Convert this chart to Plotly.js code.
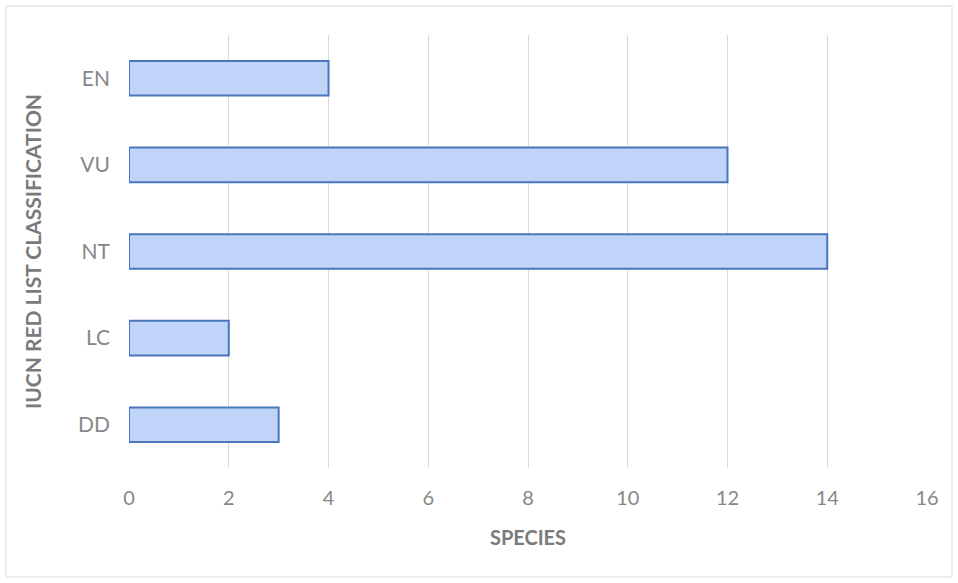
<!DOCTYPE html>
<html>
<head>
<meta charset="utf-8">
<script src="https://cdn.plot.ly/plotly-3.0.1.min.js"></script>
<style>html,body{margin:0;padding:0;background:#fff;}#chart{width:958px;height:583px;}</style>
</head>
<body>
<div id="chart"></div>
<script>
const categories = ["DD", "LC", "NT", "VU", "EN"];
const species = [3, 2, 14, 12, 4];
const xTicks = [0, 2, 4, 6, 8, 10, 12, 14, 16];

const trace = {
  type: "bar",
  orientation: "h",
  y: categories,
  x: species,
  marker: {
    color: "#bfd4f8",
    line: { color: "#4a76bb", width: 2 }
  },
  hoverinfo: "x+y"
};

const layout = {
  width: 958,
  height: 583,
  margin: { l: 129, r: 31, t: 35, b: 115 },
  paper_bgcolor: "#ffffff",
  plot_bgcolor: "#ffffff",
  bargap: 0.6,
  showlegend: false,
  font: { family: "Lato, 'Open Sans', sans-serif", color: "#878787", size: 16 },
  xaxis: {
    range: [0, 16],
    tickvals: xTicks,
    ticktext: xTicks.map(String),
    showgrid: true,
    gridcolor: "#d9d9d9",
    gridwidth: 1,
    zeroline: false,
    showline: false,
    ticks: "",
    ticklabelstandoff: 16,
    tickfont: { size: 20, color: "#878787" },
    title: { text: "<b>SPECIES</b>", font: { size: 20, color: "#7a7a7a" }, standoff: 22 }
  },
  yaxis: {
    categoryorder: "array",
    categoryarray: categories,
    showgrid: false,
    zeroline: false,
    showline: false,
    ticks: "",
    ticklabelstandoff: 18,
    tickfont: { size: 21, color: "#878787" },
    title: { text: "<b>IUCN RED LIST CLASSIFICATION</b>", font: { size: 21, color: "#7a7a7a" }, standoff: 30 }
  },
  shapes: [{
    type: "rect", xref: "paper", yref: "paper",
    x0: (6 - 129) / 798, x1: (952 - 129) / 798,
    y0: (468 - 577) / 433, y1: (468 - 6) / 433,
    line: { color: "#d9d9d9", width: 1 }, fillcolor: "rgba(0,0,0,0)", layer: "below"
  }]
};

Plotly.newPlot("chart", [trace], layout, { displayModeBar: false, staticPlot: true });
</script>
</body>
</html>
